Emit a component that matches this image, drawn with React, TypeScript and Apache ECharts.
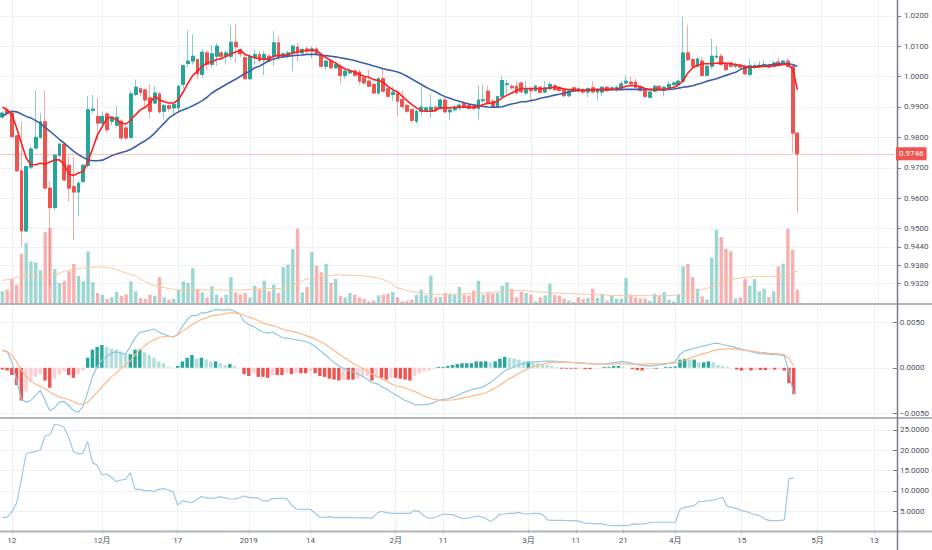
import React, { useEffect, useRef } from 'react';
import * as echarts from 'echarts';

// ---------- axis categories (daily) ----------
const START_DATE = '2018-11-10';
const DAY_COUNT = 188;

const tickDates = ['2018-11-12', '2018-12-01', '2018-12-17', '2019-01-01', '2019-01-14', '2019-02-01', '2019-02-11', '2019-03-01', '2019-03-11', '2019-03-21', '2019-04-01', '2019-04-15', '2019-05-01', '2019-05-13'];
const tickTexts = ['12', '12月', '17', '2019', '14', '2月', '11', '3月', '11', '21', '4月', '15', '5月', '13'];

const priceTicks = [0.932, 0.938, 0.944, 0.95, 0.96, 0.97, 0.98, 0.99, 1.0, 1.01, 1.02];
const macdTicks = [-0.005, 0, 0.005];
const hvTicks = [5, 10, 15, 20, 25];

// ---------- price data ----------
const opens = [0.9867,0.9890,0.9880,0.9805,0.9690,0.9492,0.9702,0.9765,0.9800,0.9851,
0.9633,0.9569,0.9741,0.9778,0.9708,0.9638,0.9620,0.9655,0.9708,0.9889,
0.9869,0.9847,0.9877,0.9853,0.9840,0.9853,0.9831,0.9800,0.9941,0.9960,
0.9956,0.9930,0.9913,0.9943,0.9886,0.9904,0.9897,0.9897,0.9974,1.0043,
1.0051,1.0056,1.0007,1.0078,1.0040,1.0067,1.0078,1.0067,1.0067,1.0113,
1.0089,1.0062,0.9993,1.0062,1.0073,1.0056,1.0067,1.0067,1.0111,1.0067,
1.0067,1.0078,1.0097,1.0078,1.0091,1.0084,1.0091,1.0073,1.0034,1.0051,
1.0029,1.0034,1.0004,1.0012,1.0018,1.0015,0.9996,0.9985,0.9974,0.9946,
0.9993,0.9960,0.9941,0.9946,0.9924,0.9905,0.9891,0.9853,0.9886,0.9889,
0.9886,0.9899,0.9897,0.9923,0.9884,0.9891,0.9897,0.9913,0.9906,0.9902,
0.9895,0.9921,0.9952,0.9919,0.9902,0.9935,0.9974,0.9968,0.9968,0.9979,
0.9946,0.9960,0.9954,0.9965,0.9949,0.9960,0.9970,0.9965,0.9959,0.9937,
0.9963,0.9960,0.9957,0.9949,0.9963,0.9949,0.9949,0.9965,0.9960,0.9957,
0.9960,0.9979,0.9982,0.9982,0.9965,0.9954,0.9932,0.9952,0.9968,0.9954,
0.9963,0.9974,0.9974,0.9985,1.0078,1.0056,1.0034,1.0051,1.0004,1.0034,
1.0064,1.0067,1.0040,1.0045,1.0034,1.0037,1.0034,1.0007,1.0031,1.0034,
1.0036,1.0037,1.0034,1.0048,1.0043,1.0051,1.0034,0.9814];

const highs = [0.9886,0.9902,0.9886,0.9808,0.9853,0.9706,0.9770,0.9954,0.9880,0.9954,
0.9655,0.9745,0.9780,0.9782,0.9737,0.9737,0.9655,0.9712,0.9935,0.9940,
0.9930,0.9885,0.9885,0.9870,0.9902,0.9860,0.9840,0.9955,0.9990,0.9965,
0.9960,0.9974,0.9968,0.9950,0.9910,0.9908,0.9912,0.9972,1.0040,1.0152,
1.0138,1.0060,1.0090,1.0085,1.0105,1.0110,1.0085,1.0085,1.0169,1.0175,
1.0095,1.0070,1.0075,1.0090,1.0085,1.0085,1.0075,1.0150,1.0133,1.0080,
1.0085,1.0105,1.0111,1.0095,1.0100,1.0098,1.0098,1.0078,1.0055,1.0056,
1.0045,1.0040,1.0022,1.0025,1.0025,1.0023,1.0000,1.0023,0.9978,0.9998,
1.0031,0.9965,0.9968,0.9950,0.9954,0.9910,0.9895,0.9890,0.9968,0.9900,
0.9941,0.9905,0.9928,0.9930,0.9895,0.9905,0.9912,0.9918,0.9915,0.9908,
0.9971,0.9974,0.9971,0.9925,0.9938,1.0001,0.9990,0.9975,0.9985,0.9985,
0.9985,0.9965,0.9972,0.9970,0.9985,0.9982,0.9975,0.9968,0.9963,0.9955,
0.9967,0.9965,0.9962,0.9965,0.9985,0.9962,0.9968,0.9970,0.9968,0.9970,
0.9985,1.0004,1.0001,0.9993,0.9968,0.9958,0.9953,0.9972,0.9972,0.9968,
0.9985,0.9985,0.9990,1.0197,1.0169,1.0062,1.0065,1.0065,1.0040,1.0125,
1.0100,1.0075,1.0045,1.0050,1.0045,1.0042,1.0040,1.0059,1.0045,1.0050,
1.0055,1.0042,1.0050,1.0062,1.0055,1.0060,1.0040,0.9815];

const lows = [0.9862,0.9870,0.9798,0.9686,0.9440,0.9488,0.9695,0.9760,0.9795,0.9628,
0.9310,0.9560,0.9735,0.9655,0.9589,0.9463,0.9540,0.9650,0.9700,0.9880,
0.9792,0.9830,0.9815,0.9840,0.9835,0.9790,0.9792,0.9795,0.9935,0.9935,
0.9897,0.9862,0.9908,0.9878,0.9860,0.9885,0.9870,0.9880,0.9960,1.0030,
1.0040,0.9990,0.9995,1.0020,1.0030,1.0035,1.0055,1.0040,1.0055,1.0045,
1.0065,0.9990,0.9988,1.0040,1.0045,1.0005,1.0045,1.0034,1.0055,1.0060,
1.0060,1.0018,1.0050,1.0070,1.0075,1.0060,1.0068,1.0030,1.0020,1.0025,
1.0025,0.9976,0.9993,1.0008,1.0000,0.9975,0.9975,0.9965,0.9942,0.9940,
0.9948,0.9930,0.9919,0.9869,0.9895,0.9880,0.9850,0.9845,0.9869,0.9885,
0.9864,0.9885,0.9890,0.9880,0.9858,0.9885,0.9890,0.9895,0.9890,0.9888,
0.9858,0.9915,0.9908,0.9898,0.9898,0.9930,0.9941,0.9958,0.9942,0.9945,
0.9940,0.9924,0.9950,0.9945,0.9945,0.9955,0.9952,0.9950,0.9933,0.9933,
0.9950,0.9948,0.9945,0.9932,0.9945,0.9921,0.9935,0.9950,0.9955,0.9950,
0.9955,0.9975,0.9972,0.9960,0.9950,0.9930,0.9928,0.9948,0.9955,0.9935,
0.9958,0.9970,0.9970,0.9980,1.0050,1.0025,1.0030,1.0000,1.0000,1.0025,
1.0058,1.0035,1.0018,1.0030,1.0028,1.0025,1.0005,1.0000,1.0025,1.0028,
1.0030,1.0028,1.0030,1.0035,1.0038,1.0030,0.9748,0.9551];

const closes = [0.9880,0.9878,0.9803,0.9690,0.9492,0.9704,0.9762,0.9800,0.9851,0.9633,
0.9569,0.9741,0.9778,0.9660,0.9633,0.9620,0.9649,0.9708,0.9891,0.9893,
0.9847,0.9869,0.9825,0.9866,0.9866,0.9798,0.9798,0.9943,0.9965,0.9948,
0.9923,0.9886,0.9946,0.9884,0.9904,0.9895,0.9908,0.9968,1.0036,1.0051,
1.0067,1.0009,1.0080,1.0040,1.0075,1.0100,1.0067,1.0078,1.0113,1.0098,
1.0075,0.9993,1.0067,1.0073,1.0053,1.0073,1.0051,1.0111,1.0062,1.0075,
1.0078,1.0100,1.0078,1.0089,1.0084,1.0091,1.0073,1.0034,1.0051,1.0029,
1.0040,1.0004,1.0018,1.0018,1.0004,0.9985,0.9979,0.9968,0.9946,0.9993,
0.9952,0.9935,0.9949,0.9919,0.9902,0.9886,0.9856,0.9886,0.9899,0.9897,
0.9899,0.9891,0.9923,0.9884,0.9890,0.9899,0.9906,0.9900,0.9895,0.9895,
0.9923,0.9924,0.9913,0.9902,0.9934,0.9987,0.9976,0.9963,0.9946,0.9950,
0.9957,0.9954,0.9969,0.9948,0.9963,0.9974,0.9957,0.9954,0.9937,0.9952,
0.9954,0.9952,0.9949,0.9960,0.9949,0.9957,0.9965,0.9954,0.9963,0.9965,
0.9976,0.9985,0.9976,0.9965,0.9954,0.9935,0.9949,0.9968,0.9960,0.9965,
0.9974,0.9979,0.9985,1.0078,1.0056,1.0034,1.0058,1.0004,1.0034,1.0067,
1.0067,1.0040,1.0023,1.0034,1.0040,1.0031,1.0009,1.0036,1.0036,1.0037,
1.0040,1.0031,1.0045,1.0040,1.0051,1.0034,0.9814,0.9746];

const maFast = [0.9899,0.9891,0.9875,0.9831,0.9781,0.9732,0.9710,0.9710,0.9715,0.9712,
0.9719,0.9726,0.9726,0.9710,0.9679,0.9675,0.9683,0.9688,0.9721,0.9765,
0.9809,0.9836,0.9864,0.9866,0.9858,0.9847,0.9844,0.9858,0.9875,0.9891,
0.9899,0.9913,0.9935,0.9924,0.9917,0.9913,0.9913,0.9924,0.9950,0.9979,
1.0004,1.0018,1.0034,1.0045,1.0048,1.0056,1.0059,1.0067,1.0075,1.0081,
1.0086,1.0073,1.0067,1.0062,1.0059,1.0056,1.0059,1.0067,1.0070,1.0069,
1.0073,1.0078,1.0081,1.0084,1.0086,1.0087,1.0086,1.0073,1.0062,1.0053,
1.0045,1.0034,1.0025,1.0020,1.0015,1.0007,1.0001,0.9998,0.9990,0.9987,
0.9981,0.9968,0.9957,0.9950,0.9935,0.9921,0.9908,0.9897,0.9888,0.9886,
0.9886,0.9888,0.9897,0.9897,0.9897,0.9899,0.9899,0.9900,0.9899,0.9899,
0.9902,0.9908,0.9912,0.9913,0.9919,0.9930,0.9939,0.9946,0.9954,0.9961,
0.9961,0.9961,0.9961,0.9959,0.9961,0.9963,0.9965,0.9963,0.9959,0.9957,
0.9957,0.9956,0.9954,0.9955,0.9957,0.9957,0.9957,0.9958,0.9958,0.9959,
0.9963,0.9968,0.9970,0.9970,0.9967,0.9961,0.9957,0.9957,0.9957,0.9957,
0.9961,0.9965,0.9972,0.9987,1.0012,1.0029,1.0037,1.0042,1.0042,1.0042,
1.0044,1.0045,1.0044,1.0042,1.0040,1.0037,1.0033,1.0031,1.0031,1.0032,
1.0034,1.0034,1.0036,1.0037,1.0040,1.0040,1.0025,0.9957];

const maSlow = [0.9869,0.9880,0.9886,0.9884,0.9877,0.9869,0.9864,0.9855,0.9845,0.9833,
0.9820,0.9807,0.9793,0.9781,0.9767,0.9754,0.9743,0.9734,0.9726,0.9723,
0.9723,0.9725,0.9732,0.9740,0.9745,0.9750,0.9754,0.9761,0.9770,0.9780,
0.9789,0.9800,0.9814,0.9831,0.9847,0.9864,0.9875,0.9884,0.9891,0.9897,
0.9904,0.9912,0.9921,0.9932,0.9946,0.9956,0.9965,0.9974,0.9983,0.9991,
1.0001,1.0010,1.0018,1.0029,1.0034,1.0043,1.0053,1.0058,1.0062,1.0065,
1.0067,1.0069,1.0070,1.0071,1.0073,1.0073,1.0073,1.0070,1.0069,1.0067,
1.0065,1.0062,1.0059,1.0056,1.0053,1.0048,1.0044,1.0040,1.0035,1.0031,
1.0026,1.0022,1.0019,1.0015,1.0009,1.0001,0.9992,0.9983,0.9974,0.9965,
0.9957,0.9950,0.9941,0.9934,0.9929,0.9923,0.9919,0.9914,0.9910,0.9907,
0.9904,0.9902,0.9900,0.9899,0.9899,0.9901,0.9906,0.9910,0.9913,0.9917,
0.9917,0.9921,0.9924,0.9929,0.9932,0.9935,0.9939,0.9942,0.9945,0.9950,
0.9953,0.9954,0.9955,0.9956,0.9956,0.9957,0.9957,0.9957,0.9957,0.9957,
0.9957,0.9958,0.9958,0.9958,0.9958,0.9958,0.9958,0.9957,0.9957,0.9957,
0.9958,0.9959,0.9962,0.9965,0.9967,0.9970,0.9975,0.9979,0.9985,0.9989,
0.9993,0.9999,1.0004,1.0009,1.0014,1.0023,1.0029,1.0031,1.0033,1.0035,
1.0037,1.0038,1.0040,1.0041,1.0042,1.0042,1.0040,1.0034];

// ---------- volume (relative units) ----------
const volumes = [35,40,72,55,148,180,125,122,98,213,
225,102,60,67,95,117,82,65,155,62,
30,25,12,17,33,22,26,65,35,15,
12,25,22,78,17,10,13,40,65,60,
105,42,32,17,50,25,17,25,78,32,
25,30,17,52,42,67,35,55,30,108,
115,162,223,32,48,153,112,92,117,60,
72,22,17,30,25,17,12,5,7,23,
25,28,33,17,5,7,10,25,40,23,
82,17,18,30,27,25,48,25,23,37,
67,25,30,28,30,52,62,42,17,33,
30,25,5,17,23,58,24,22,13,7,
3,17,12,15,43,15,28,7,23,13,
13,75,25,17,13,13,7,28,22,33,
10,5,25,110,117,78,43,20,10,137,
220,198,163,155,13,17,72,52,72,35,
43,18,35,110,118,223,160,40];

const volumeMa = [68,70,72,76,80,85,84,82,80,77,
81,85,90,95,98,102,103,105,106,108,
108,108,107,104,100,95,90,85,81,71,
64,57,52,48,46,43,41,39,38,38,
38,39,39,40,40,40,39,38,38,39,
39,40,40,41,42,42,43,43,44,44,
46,52,61,67,72,75,78,80,82,83,
84,84,84,83,83,82,81,79,77,75,
70,65,55,45,42,37,34,32,29,28,
27,26,25,25,26,27,27,28,28,28,
29,30,31,32,33,34,35,36,37,38,
37,35,34,33,32,31,30,30,29,28,
28,27,26,26,25,25,24,24,23,23,
22,22,22,22,22,22,22,22,22,22,
22,23,24,26,29,32,36,40,44,50,
57,62,67,71,73,75,77,78,79,80,
80,80,80,80,81,85,94,95];

// ---------- MACD ----------
const macdLine = [0.00196,0.00178,0.00067,-0.00137,-0.00341,-0.00378,-0.00359,-0.00304,-0.00248,-0.00359,
-0.00470,-0.00441,-0.00378,-0.00370,-0.00415,-0.00470,-0.00489,-0.00426,-0.00267,-0.00100,
0.00011,0.00085,0.00122,0.00159,0.00178,0.00159,0.00152,0.00233,0.00326,0.00389,
0.00400,0.00411,0.00426,0.00393,0.00370,0.00352,0.00337,0.00363,0.00456,0.00530,
0.00574,0.00574,0.00604,0.00604,0.00622,0.00641,0.00633,0.00633,0.00641,0.00622,
0.00596,0.00511,0.00474,0.00456,0.00419,0.00393,0.00381,0.00393,0.00363,0.00333,
0.00326,0.00319,0.00307,0.00300,0.00289,0.00270,0.00233,0.00189,0.00148,0.00104,
0.00056,0.00022,-0.00007,-0.00026,-0.00044,-0.00070,-0.00093,-0.00126,-0.00163,-0.00174,
-0.00204,-0.00230,-0.00267,-0.00296,-0.00330,-0.00359,-0.00378,-0.00404,-0.00407,-0.00407,
-0.00400,-0.00385,-0.00359,-0.00348,-0.00341,-0.00322,-0.00307,-0.00278,-0.00259,-0.00241,
-0.00230,-0.00219,-0.00193,-0.00163,-0.00122,-0.00078,-0.00033,-0.00011,0.00011,0.00030,
0.00048,0.00056,0.00063,0.00067,0.00070,0.00074,0.00074,0.00070,0.00067,0.00063,
0.00059,0.00056,0.00052,0.00048,0.00044,0.00041,0.00041,0.00044,0.00048,0.00056,
0.00063,0.00067,0.00059,0.00048,0.00033,0.00026,0.00022,0.00022,0.00026,0.00033,
0.00041,0.00052,0.00067,0.00148,0.00185,0.00200,0.00215,0.00226,0.00241,0.00252,
0.00267,0.00270,0.00256,0.00244,0.00233,0.00219,0.00204,0.00193,0.00178,0.00167,
0.00156,0.00152,0.00148,0.00144,0.00141,0.00133,-0.00044,-0.00293];

const signalLine = [0.00189,0.00178,0.00141,0.00067,-0.00026,-0.00093,-0.00144,-0.00181,-0.00204,-0.00230,
-0.00267,-0.00296,-0.00322,-0.00333,-0.00352,-0.00370,-0.00396,-0.00404,-0.00378,-0.00322,
-0.00267,-0.00211,-0.00156,-0.00100,-0.00063,-0.00007,0.00030,0.00074,0.00141,0.00196,
0.00241,0.00278,0.00307,0.00333,0.00344,0.00344,0.00344,0.00363,0.00400,0.00437,
0.00474,0.00500,0.00530,0.00548,0.00567,0.00578,0.00585,0.00596,0.00604,0.00604,
0.00596,0.00578,0.00556,0.00541,0.00519,0.00493,0.00474,0.00463,0.00448,0.00426,
0.00411,0.00400,0.00389,0.00374,0.00356,0.00337,0.00315,0.00289,0.00263,0.00226,
0.00189,0.00152,0.00115,0.00085,0.00048,0.00019,-0.00007,-0.00033,-0.00070,-0.00093,
-0.00119,-0.00144,-0.00174,-0.00200,-0.00204,-0.00222,-0.00241,-0.00259,-0.00285,-0.00311,
-0.00330,-0.00344,-0.00356,-0.00359,-0.00356,-0.00352,-0.00344,-0.00333,-0.00322,-0.00311,
-0.00300,-0.00289,-0.00274,-0.00248,-0.00222,-0.00193,-0.00156,-0.00119,-0.00093,-0.00063,
-0.00033,-0.00007,0.00011,0.00026,0.00041,0.00052,0.00059,0.00063,0.00063,0.00059,
0.00059,0.00056,0.00052,0.00048,0.00044,0.00041,0.00041,0.00041,0.00041,0.00041,
0.00044,0.00044,0.00041,0.00041,0.00041,0.00041,0.00041,0.00044,0.00044,0.00044,
0.00048,0.00048,0.00052,0.00067,0.00085,0.00104,0.00122,0.00141,0.00156,0.00170,
0.00189,0.00200,0.00204,0.00207,0.00207,0.00204,0.00196,0.00189,0.00185,0.00178,
0.00170,0.00167,0.00159,0.00156,0.00152,0.00144,0.00104,0.00019];

const macdHist = [-0.0002,-0.0003,-0.0008,-0.0019,-0.0036,-0.0026,-0.0016,-0.0010,-0.0007,-0.0014,
-0.0022,-0.0012,-0.0007,-0.0004,-0.0008,-0.0011,-0.0007,-0.0003,0.0011,0.0020,
0.0023,0.0025,0.0023,0.0021,0.0020,0.0018,0.0015,0.0015,0.0020,0.0020,
0.0017,0.0014,0.0011,0.0007,0.0005,0.0001,0.00002,0.0002,0.0007,0.0011,
0.0014,0.0010,0.0011,0.0009,0.0007,0.0007,0.0005,0.0003,0.0004,0.0002,
0.00002,-0.0007,-0.0009,-0.0006,-0.0010,-0.0010,-0.0011,-0.0008,-0.0008,-0.0008,
-0.0006,-0.0007,-0.0006,-0.0006,-0.0006,-0.0004,-0.0006,-0.0009,-0.0010,-0.0012,
-0.0013,-0.0014,-0.0013,-0.0013,-0.0013,-0.0012,-0.0010,-0.0009,-0.0014,-0.0011,
-0.0011,-0.0013,-0.0011,-0.0011,-0.0012,-0.0013,-0.0014,-0.0009,-0.0006,-0.0004,
-0.0003,-0.0001,0.0001,0.0001,0.0002,0.0003,0.0004,0.0005,0.0005,0.0005,
0.0007,0.0007,0.0007,0.0006,0.0007,0.0010,0.0012,0.0011,0.0010,0.0009,
0.0007,0.0007,0.0006,0.0005,0.0004,0.0003,0.0002,0.0001,-0.0001,-0.0001,
-0.0001,-0.0001,-0.00005,-0.00015,-0.00015,-0.0001,-0.00003,0.0001,0.0001,0.0002,
0.0002,0.0001,0.00002,-0.00015,-0.00025,-0.0003,-0.00015,-0.0001,-0.0001,-0.00003,
0.0001,0.0001,0.00015,0.0009,0.0010,0.0009,0.0009,0.0006,0.0006,0.0007,
0.0006,0.0003,0.0002,0.0001,0.00002,-0.0002,-0.0003,-0.0002,-0.0003,-0.00025,
-0.00025,-0.00025,-0.0002,-0.0002,-0.00015,-0.0003,-0.0017,-0.0029];

// ---------- lower indicator ----------
const lowerIndicator = [3.52,3.52,4.92,6.97,12.70,19.10,19.51,19.67,20.08,23.52,
23.77,26.39,26.23,25.66,23.20,19.67,19.10,19.26,22.13,16.97,
16.39,13.93,14.18,13.36,12.30,12.70,12.87,14.51,10.41,10.41,
10.08,10.08,9.84,10.41,10.57,10.25,9.84,6.56,7.54,7.38,
7.13,7.95,8.61,8.28,8.20,8.28,8.61,8.28,8.03,8.03,
8.28,8.77,8.44,8.28,8.28,7.54,7.54,8.11,8.20,8.20,
8.11,6.56,5.57,5.49,5.49,5.49,4.51,3.52,3.52,3.69,
3.44,3.44,3.52,3.44,3.44,3.36,3.36,3.44,3.28,4.51,
5.00,4.67,4.51,4.51,4.51,4.51,4.51,5.16,4.92,3.85,
3.28,3.36,3.85,4.34,4.26,4.18,3.69,3.28,3.28,3.52,
3.85,3.69,3.28,2.46,3.28,4.26,4.34,4.51,4.51,4.75,
4.34,4.34,4.51,4.51,4.26,2.87,2.79,2.79,2.79,2.70,
2.70,2.70,2.46,2.05,2.05,1.89,2.05,1.80,1.56,1.48,
1.56,1.48,1.48,1.89,1.80,1.89,2.05,2.30,2.30,2.30,
2.30,2.30,2.30,5.49,5.98,6.15,6.39,7.38,7.46,7.62,
7.79,8.03,8.36,6.15,5.98,5.66,5.16,4.92,4.51,4.10,
3.85,3.03,2.70,2.70,2.70,2.87,13.11,13.11];

// ---------- styling ----------
const FONT = 'Roboto, "Noto Sans CJK SC", sans-serif';
const TEXT = '#4c525e';
const GRID_LINE = '#eef1f6';
const UP = '#26a69a';
const DOWN = '#ef5350';

function buildCategories(): string[] {
  const out: string[] = [];
  const t0 = Date.parse(START_DATE + 'T00:00:00Z');
  for (let i = 0; i < DAY_COUNT; i++) {
    out.push(new Date(t0 + i * 86400000).toISOString().slice(0, 10));
  }
  return out;
}

export default function App() {
  const ref = useRef<HTMLDivElement>(null);

  useEffect(() => {
    document.body.style.margin = '0';
    if (!ref.current) return;
    const chart = echarts.init(ref.current, null, { renderer: 'svg' });

    const categories = buildCategories();
    const tickSet = new Set(tickDates);
    const tickMap: Record<string, string> = {};
    tickDates.forEach((d, i) => { tickMap[d] = tickTexts[i]; });

    const wickData = opens.map((o, i) => [o, closes[i], lows[i], highs[i]]);
    const bodyData = opens.map((o, i) => [o, closes[i], Math.min(o, closes[i]), Math.max(o, closes[i])]);
    const lastClose = closes[closes.length - 1];

    const gridDefs = [
      { left: 0, right: 37, top: 0, height: 303 },
      { left: 0, right: 37, top: 0, height: 303 },
      { left: 0, right: 37, top: 305, height: 111 },
      { left: 0, right: 37, top: 419, height: 111 },
    ];

    const xAxes = gridDefs.map((_, g) => ({
      type: 'category',
      gridIndex: g,
      data: categories,
      boundaryGap: true,
      axisLine: { show: false },
      axisTick: g === 3
        ? { show: true, interval: (_i: number, v: string) => tickSet.has(v), alignWithLabel: true, length: 3, lineStyle: { color: '#9598a1' } }
        : { show: false },
      axisLabel: g === 3
        ? {
            show: true,
            interval: (_i: number, v: string) => tickSet.has(v),
            formatter: (v: string) => tickMap[v] || '',
            color: TEXT, fontSize: 8, fontFamily: FONT, margin: 6,
          }
        : { show: false },
      splitLine: { show: false },
    }));

    const rightAxis = (gridIndex: number, min: number, max: number, ticks: number[], fmt: (v: number) => string) => ({
      type: 'value',
      gridIndex,
      position: 'right',
      offset: 2,
      min, max,
      scale: true,
      axisLine: { show: false },
      splitLine: { show: false },
      axisTick: { show: true, length: 4, customValues: ticks, lineStyle: { color: '#787b86' } },
      axisLabel: { show: true, customValues: ticks, formatter: fmt, color: TEXT, fontSize: 8, fontFamily: FONT, margin: 7 },
    });

    const yAxes = [
      rightAxis(0, 0.9255, 1.0252, priceTicks, (v) => v.toFixed(4)),
      { type: 'value', gridIndex: 1, min: 0, max: 910, show: false, splitLine: { show: false } },
      rightAxis(2, -0.0053, 0.0069, macdTicks, (v) => (v < 0 ? '\u2212' + (-v).toFixed(4) : Math.abs(v).toFixed(4))),
      rightAxis(3, 0.4, 27.7, hvTicks, (v) => v.toFixed(4)),
    ];

    const gridMarkLine = (hValues: number[]) => ({
      silent: true,
      symbol: ['none', 'none'],
      precision: 6,
      z: 1,
      animation: false,
      label: { show: false },
      emphasis: { disabled: true },
      lineStyle: { color: GRID_LINE, width: 1, type: 'solid' },
      data: [
        ...hValues.map((v) => ({ yAxis: v })),
        ...tickDates.map((d) => ({ xAxis: d })),
      ],
    });

    const blank = categories.map(() => null);

    const histColor = (p: any) => {
      const i = p.dataIndex;
      const v = macdHist[i];
      const prev = i > 0 ? macdHist[i - 1] : 0;
      if (v >= 0) return v >= prev ? UP : '#b2dfdb';
      return v <= prev ? DOWN : '#ffcdd2';
    };

    const option: any = {
      animation: false,
      backgroundColor: '#ffffff',
      grid: gridDefs,
      xAxis: xAxes,
      yAxis: yAxes,
      series: [
        { type: 'line', name: 'grid0', xAxisIndex: 0, yAxisIndex: 0, data: blank, z: 0, silent: true, showSymbol: false, markLine: gridMarkLine(priceTicks) },
        {
          type: 'bar', name: 'Volume', xAxisIndex: 1, yAxisIndex: 1, data: volumes, barWidth: '72%',
          itemStyle: { color: (p: any) => (closes[p.dataIndex] >= opens[p.dataIndex] ? 'rgba(38,166,154,0.45)' : 'rgba(239,83,80,0.45)') },
          silent: true,
        },
        { type: 'line', name: 'Volume MA', xAxisIndex: 1, yAxisIndex: 1, data: volumeMa, showSymbol: false, symbol: 'none', lineStyle: { color: '#fcc6a0', width: 1 }, silent: true },
        {
          type: 'candlestick', name: 'wick', xAxisIndex: 0, yAxisIndex: 0, data: wickData, barWidth: '70%',
          itemStyle: { color: 'rgba(38,166,154,0.55)', color0: 'rgba(239,83,80,0.5)', borderColor: 'rgba(38,166,154,0.55)', borderColor0: 'rgba(239,83,80,0.5)', borderWidth: 1 },
          silent: true,
        },
        {
          type: 'candlestick', name: 'body', xAxisIndex: 0, yAxisIndex: 0, data: bodyData, barWidth: '70%',
          itemStyle: { color: UP, color0: DOWN, borderColor: UP, borderColor0: DOWN, borderWidth: 1 },
          silent: true,
        },
        {
          type: 'line', name: 'MA fast', xAxisIndex: 0, yAxisIndex: 0, data: maFast, showSymbol: false, symbol: 'none',
          lineStyle: { color: '#ff1f1f', width: 1.6 }, silent: true, z: 4,
          markLine: {
            silent: true,
            symbol: ['none', 'none'],
            precision: 6,
            z: 20,
            animation: false,
            lineStyle: { color: 'rgba(239,83,80,0.35)', width: 1, type: 'solid' },
            label: {
              show: true, position: 'end', formatter: lastClose.toFixed(4),
              backgroundColor: DOWN, color: '#ffffff', padding: [3, 3, 2, 3],
              fontSize: 8, fontFamily: FONT, distance: 1,
            },
            emphasis: { disabled: true },
            data: [{ yAxis: lastClose }],
          },
        },
        { type: 'line', name: 'MA slow', xAxisIndex: 0, yAxisIndex: 0, data: maSlow, showSymbol: false, symbol: 'none', lineStyle: { color: '#3d5fa8', width: 1.6 }, silent: true, z: 3 },

        { type: 'line', name: 'grid2', xAxisIndex: 2, yAxisIndex: 2, data: blank, z: 0, silent: true, showSymbol: false, markLine: gridMarkLine(macdTicks) },
        { type: 'bar', name: 'Histogram', xAxisIndex: 2, yAxisIndex: 2, data: macdHist, barWidth: '72%', itemStyle: { color: histColor }, silent: true },
        { type: 'line', name: 'MACD', xAxisIndex: 2, yAxisIndex: 2, data: macdLine, showSymbol: false, symbol: 'none', lineStyle: { color: '#90c6e2', width: 1.2 }, silent: true },
        { type: 'line', name: 'Signal', xAxisIndex: 2, yAxisIndex: 2, data: signalLine, showSymbol: false, symbol: 'none', lineStyle: { color: '#fdb988', width: 1.2 }, silent: true },

        { type: 'line', name: 'grid3', xAxisIndex: 3, yAxisIndex: 3, data: blank, z: 0, silent: true, showSymbol: false, markLine: gridMarkLine(hvTicks) },
        { type: 'line', name: 'Lower', xAxisIndex: 3, yAxisIndex: 3, data: lowerIndicator, showSymbol: false, symbol: 'none', lineStyle: { color: '#9fc8e3', width: 1.2 }, silent: true },
      ],
      graphic: [
        { type: 'line', z: 10, silent: true, shape: { x1: 0, y1: 304, x2: 932, y2: 304 }, style: { stroke: '#b2b5be', lineWidth: 2 } },
        { type: 'line', z: 10, silent: true, shape: { x1: 0, y1: 418, x2: 932, y2: 418 }, style: { stroke: '#b2b5be', lineWidth: 2 } },
        { type: 'line', z: 10, silent: true, shape: { x1: 0, y1: 531.5, x2: 932, y2: 531.5 }, style: { stroke: '#b2b5be', lineWidth: 2 } },
        { type: 'line', z: 10, silent: true, shape: { x1: 897.5, y1: 0, x2: 897.5, y2: 550 }, style: { stroke: '#787b86', lineWidth: 1.5 } },
      ],
    };

    chart.setOption(option);
    return () => chart.dispose();
  }, []);

  return <div ref={ref} style={{ width: 932, height: 550 }} />;
}
